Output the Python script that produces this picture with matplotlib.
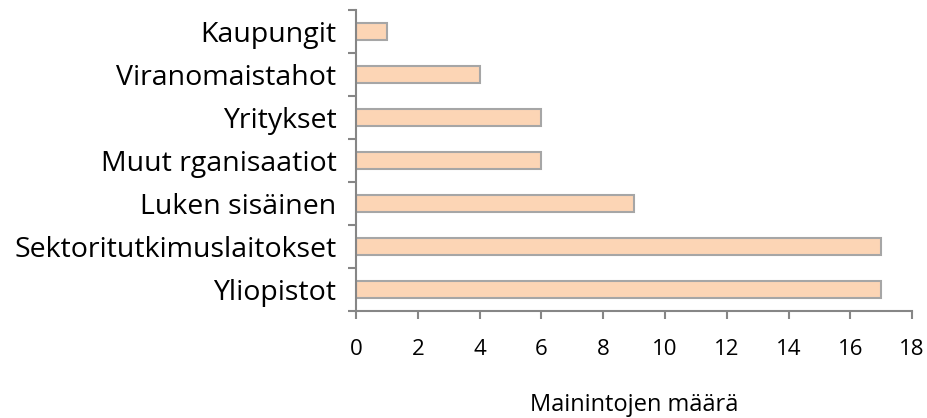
import matplotlib.pyplot as plt
import numpy as np

categories = ["Yliopistot", "Sektoritutkimuslaitokset", "Luken sisäinen",
              "Muut rganisaatiot", "Yritykset", "Viranomaistahot", "Kaupungit"]
values = [17, 17, 9, 6, 6, 4, 1]
x_ticks = [0, 2, 4, 6, 8, 10, 12, 14, 16, 18]

plt.rcParams['font.family'] = ['Open Sans', 'DejaVu Sans']

fig = plt.figure(figsize=(9.27, 4.18), dpi=100)
ax = fig.add_axes([0.384, 0.256, 0.6, 0.72])

y = np.arange(len(categories))
ax.barh(y, values, height=0.4, color='#FCD5B5', edgecolor='#A6A6A6', linewidth=1.5)

ax.set_xlim(0, 18)
ax.set_ylim(-0.5, len(categories) - 0.5)
ax.set_xticks(x_ticks)
ax.set_xticklabels([str(t) for t in x_ticks], fontsize=16)

# category labels centered, tick marks on the boundaries
ax.set_yticks(y)
ax.set_yticklabels(categories, fontsize=20.5)
ax.tick_params(axis='y', length=0, pad=14)
ax.set_yticks(np.arange(-0.5, len(categories)), minor=True)
ax.tick_params(axis='y', which='minor', length=6, color='#868686', width=1.5)
ax.tick_params(axis='x', length=6, color='#868686', width=1.5, pad=14)

for s in ['top', 'right']:
    ax.spines[s].set_visible(False)
for s in ['left', 'bottom']:
    ax.spines[s].set_color('#868686')
    ax.spines[s].set_linewidth(1.5)

ax.set_xlabel('Mainintojen määrä', fontsize=17, labelpad=24)

fig.savefig('out.png', dpi=100)
